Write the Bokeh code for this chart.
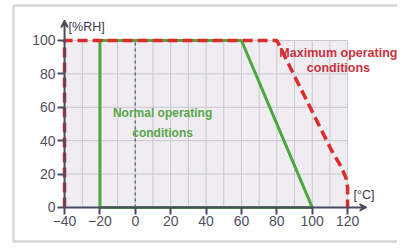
from bokeh.plotting import figure
from bokeh.models import (Range1d, LinearAxis, FixedTicker, Arrow, VeeHead,
                          BoxAnnotation)
from bokeh.core.properties import value
from bokeh.embed import file_html
from bokeh.resources import INLINE

# ---- data ----
x_ticks = [-40, -20, 0, 20, 40, 60, 80, 100, 120]
y_ticks = [0, 20, 40, 60, 80, 100]
x_grid = [-30, -20, -10, 0, 10, 20, 30, 40, 50, 60, 70, 80, 90, 100, 110, 120]
y_grid = [20, 40, 60, 80, 100]
normal_t = [-20, -20, 60, 100, -20]
normal_rh = [0, 100, 100, 0, 0]
max_t = [-40, -40, 80, 111, 116, 119, 120, 120]
max_rh = [0, 100, 100, 34, 25, 18, 12, 0]
x_unit = "[°C]"
y_unit = "[%RH]"
normal_label = ["Normal operating", "conditions"]
max_label = ["Maximum operating", "conditions"]

W, H = 397, 243
p = figure(width=W, height=H, output_backend="svg", toolbar_location=None,
           x_range=Range1d(-76.2, 148.2), y_range=Range1d(-21.6, 123.95),
           min_border=0, min_border_left=0, min_border_right=0,
           min_border_top=0, min_border_bottom=0,
           x_axis_type=None, y_axis_type=None)
p.outline_line_color = None
p.background_fill_color = "white"
p.border_fill_color = "white"
p.xgrid.visible = False
p.ygrid.visible = False

xmin, xmax = x_ticks[0], x_ticks[-1]
ymin, ymax = y_ticks[0], y_ticks[-1]

# plot background
p.add_layout(BoxAnnotation(left=xmin, right=xmax, bottom=ymin, top=ymax,
                           fill_color="#efedf2", fill_alpha=1, line_color=None,
                           level="underlay"))

# grid
p.segment(x0=x_grid, x1=x_grid, y0=[ymin] * len(x_grid), y1=[ymax] * len(x_grid),
          line_color="#c9c7cf", line_width=1)
p.segment(x0=[xmin] * len(y_grid), x1=[xmax] * len(y_grid), y0=y_grid, y1=y_grid,
          line_color="#c9c7cf", line_width=1)
# zero line (dotted)
p.segment(x0=[0], x1=[0], y0=[ymin], y1=[ymax], line_color="#6a6a78",
          line_width=1.5, line_dash="3 3")

# axes arrows
ax_col = "#4a4a62"
p.add_layout(Arrow(end=VeeHead(size=7, line_color=ax_col, fill_color=ax_col, line_width=1.5),
                   x_start=xmin, y_start=0, x_end=130.7, y_end=0,
                   line_color=ax_col, line_width=2))
p.add_layout(Arrow(end=VeeHead(size=7, line_color=ax_col, fill_color=ax_col, line_width=1.5),
                   x_start=xmin, y_start=0, x_end=xmin, y_end=112,
                   line_color=ax_col, line_width=2))

# tick labels via axes at fixed locations
font = "Liberation Sans"
xa = LinearAxis(ticker=FixedTicker(ticks=x_ticks), fixed_location=0)
ya = LinearAxis(ticker=FixedTicker(ticks=y_ticks), fixed_location=xmin)
for a in (xa, ya):
    a.axis_line_color = None
    a.major_tick_out = 7
    a.major_tick_in = 0
    a.major_tick_line_color = ax_col
    a.major_tick_line_width = 2
    a.minor_tick_line_color = None
    a.major_label_text_font = font
    a.major_label_text_font_size = "14px"
    a.major_label_text_color = "#50505e"
    a.major_label_standoff = 2
p.add_layout(xa, "below")
p.add_layout(ya, "left")

# normal operating region
p.line(normal_t, normal_rh, line_color="#4fa540", line_width=3)
# maximum operating
p.line(max_t, max_rh, line_color="#dd2a2a", line_width=3.5, line_dash="10 5")

# texts
p.text(x=[15.4, 15.4], y=[56.3, 44.3], text=normal_label, text_align="center",
       text_baseline="middle", text_color="#5aa64a", text_font=value(font),
       text_font_size="12px", text_font_style="bold")
p.text(x=[114.8, 114.8], y=[92.8, 83.8], text=max_label, text_align="center",
       text_baseline="middle", text_color="#c8323c", text_font=value(font),
       text_font_size="12.5px", text_font_style="bold")
p.text(x=[-37.7], y=[107.8], text=[y_unit], text_align="left", text_baseline="middle",
       text_color="#3a3a50", text_font=value(font), text_font_size="12.5px")
p.text(x=[123.4], y=[7.2], text=[x_unit], text_align="left", text_baseline="middle",
       text_color="#3a3a50", text_font=value(font), text_font_size="12.5px")

# outer frame
p.add_layout(BoxAnnotation(left=13, right=440, top=5, bottom=241,
                           left_units="canvas", right_units="canvas",
                           top_units="canvas", bottom_units="canvas",
                           fill_alpha=0, line_color="#7c7c7c", line_width=2.5))

open("out.html", "w").write(file_html(p, INLINE))
